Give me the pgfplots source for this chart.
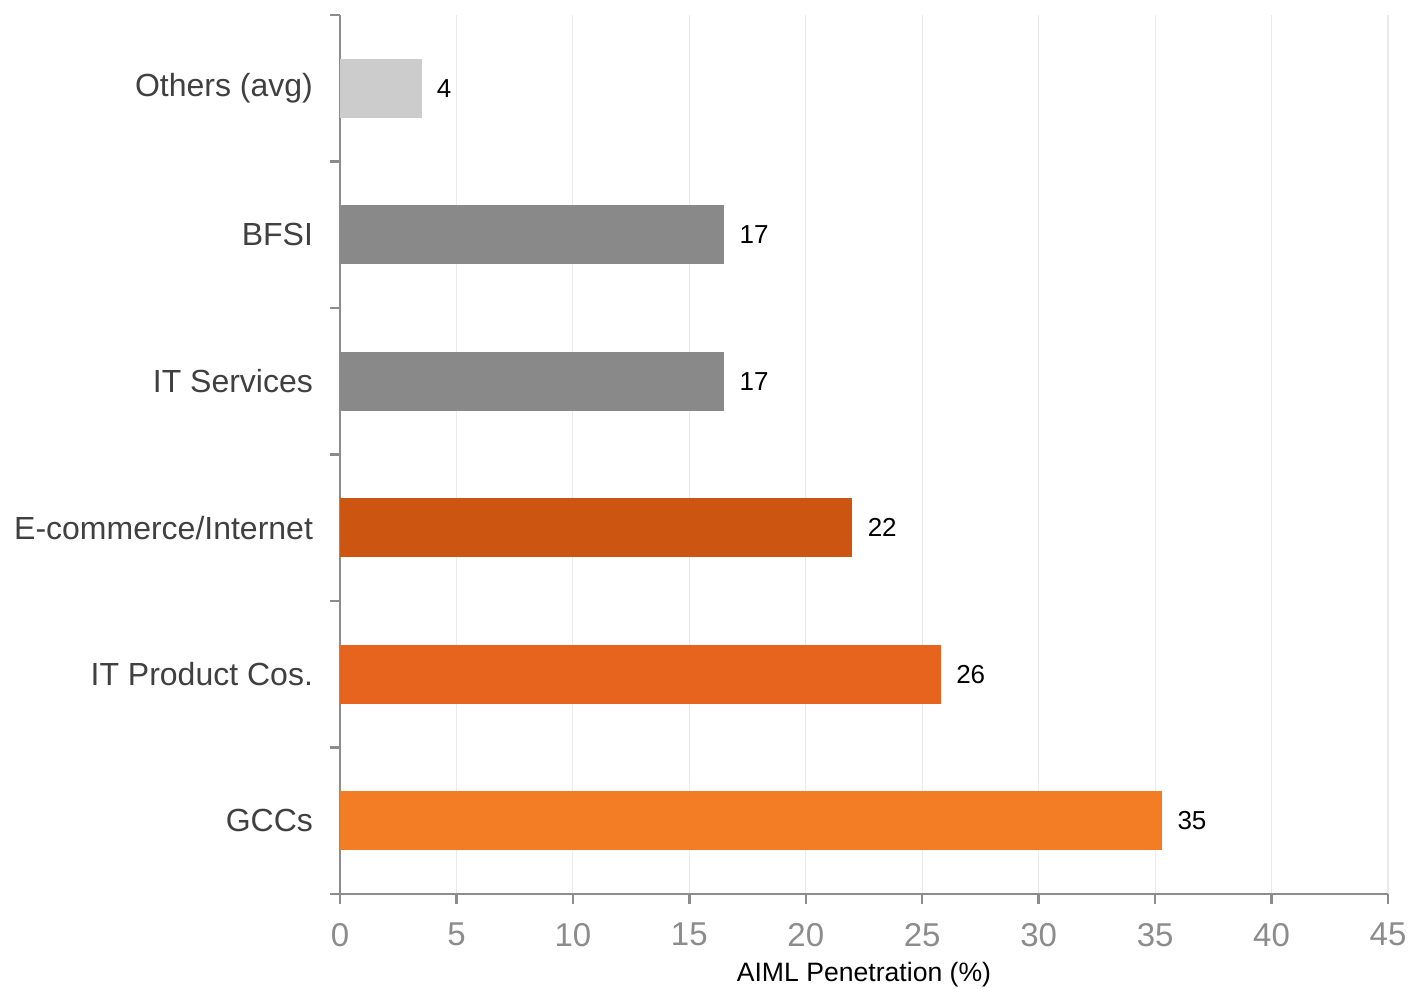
\documentclass[border=0pt]{standalone}
\usepackage{fontspec}
\setmainfont{Liberation Sans}
\usepackage{pgfplots}
\pgfplotsset{compat=1.18}
\definecolor{axgray}{HTML}{8C8C8C}
\definecolor{gridgray}{HTML}{EBEBEB}
\definecolor{labgray}{HTML}{404040}
\definecolor{cOther}{HTML}{CCCCCC}
\definecolor{cGray}{HTML}{898989}
\definecolor{cEcom}{HTML}{CC5511}
\definecolor{cProd}{HTML}{E6641E}
\definecolor{cGCC}{HTML}{F27D24}
\begin{document}
\begin{tikzpicture}
\begin{axis}[
  name=ax,
  scale only axis, width=524pt, height=439.5pt,
  xbar, bar shift=0pt, bar width=29.5pt,
  xmin=0, xmax=45, ymin=-0.5, ymax=5.5,
  axis lines=left,
  axis line style={-, draw=axgray, line width=1.2pt},
  xtick={0,5,...,45},
  ytick={0,1,2,3,4,5},
  yticklabels={GCCs, IT Product Cos., E-commerce/Internet, IT Services, BFSI, Others (avg)},
  minor ytick={-0.5,0.5,1.5,2.5,3.5,4.5,5.5},
  tick align=outside,
  major tick length=5pt, minor tick length=5pt,
  tick style={draw=axgray, line width=1.2pt},
  major y tick style={draw=none},
  xmajorgrids,
  grid style={draw=gridgray, line width=0.6pt},
  /pgf/number format/assume math mode=true,
  xticklabel style={font=\fontsize{16.5}{19}\selectfont, color=axgray, yshift=-6pt},
  yticklabel style={font=\fontsize{16}{19}\selectfont, color=labgray, xshift=-5pt},
  xlabel={AIML Penetration (\%)},
  xlabel style={at={(axis description cs:0.5,0)}, anchor=base, yshift=-44pt, font=\fontsize{13.3}{15}\selectfont, color=black},
  nodes near coords style={font=\fontsize{13}{15}\selectfont, color=black, anchor=west, inner sep=0pt, xshift=7.5pt},
  point meta=explicit symbolic,
]
\addplot[fill=cGCC, draw=none, nodes near coords] coordinates {(35.3,0) [35]};
\addplot[fill=cProd, draw=none, nodes near coords] coordinates {(25.8,1) [26]};
\addplot[fill=cEcom, draw=none, nodes near coords] coordinates {(22.0,2) [22]};
\addplot[fill=cGray, draw=none, nodes near coords] coordinates {(16.5,3) [17]};
\addplot[fill=cGray, draw=none, nodes near coords] coordinates {(16.5,4) [17]};
\addplot[fill=cOther, draw=none, nodes near coords] coordinates {(3.5,5) [4]};
\end{axis}
\pgfresetboundingbox
\path ([xshift=-170pt,yshift=-47.5pt]ax.south west) rectangle ([xshift=10pt,yshift=7.5pt]ax.north east);
\end{tikzpicture}
\end{document}
